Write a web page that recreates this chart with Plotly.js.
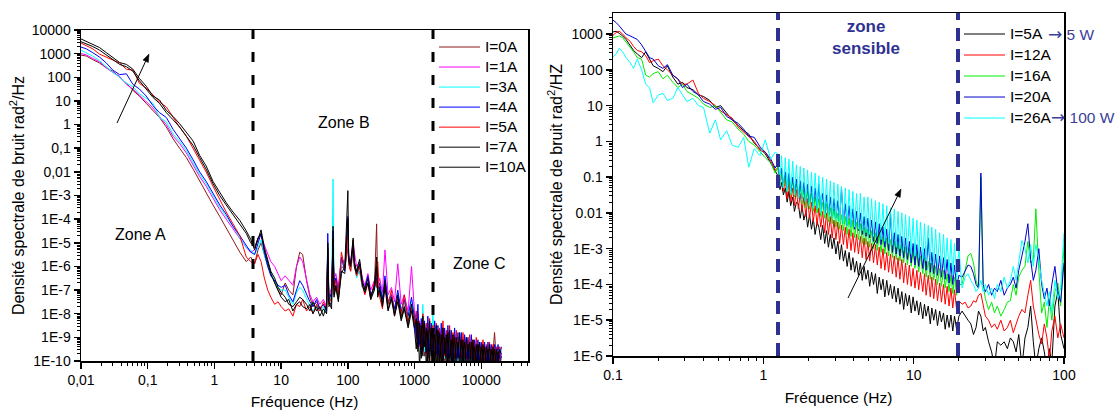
<!DOCTYPE html>
<html><head><meta charset="utf-8">
<script src="https://cdn.plot.ly/plotly-3.0.1.min.js"></script>
<style>html,body{margin:0;padding:0;background:#fff;}#chart{width:1118px;height:410px;}</style>
</head><body><div id="chart"></div>
<script>
// ---------- Left panel : frequency grid (Hz) ----------
const freqLeft = [
 0.01,0.012,0.015,0.019,0.024,0.03,0.038,0.048,0.06,0.075,0.095,0.12,0.15,0.19,0.24,0.3,0.38,0.48,0.6,0.75,0.95,1.2,1.5,1.9,2.4,3.0,3.5,4.0,4.5,5.0,5.6,6.3,7,8,9,10,
 11.5,13,15,17,19,21,24,27,30,34,38,43,48,50,52,57,60,62,66,72,80,90,100,103,110,120,125,135,150,165,180,200,220,250,270,280,300,330,360,400,450,500,560,630,700,800,900,1000,
 1060,1120,1190,1260,1330,1410,1500,1580,1680,1780,1880,2000,2110,2240,2370,2510,2660,2820,2990,3160,3350,3550,3760,3980,4220,4470,4730,5010,5310,5620,5960,6310,6680,7080,7500,7940,8410,8910,9440,10000,10600,11200,11900,12600,13300,14100,15000,15800,16800,17800,18800,20000];
const labelsLeft = ['I=0A','I=1A','I=3A','I=4A','I=5A','I=7A','I=10A'];
const psd_I0A = [
 870,790,560,400,250,180,100,56,28,16,7.9,4,2,.79,.25,.1,.04,.013,4e-3,1.3e-3,4e-4,1.3e-4,4e-5,1.3e-5,4e-6,1.6e-6,2.5e-6,1.3e-6,5e-6,1e-5,3.2e-6,1e-6,5e-7,2e-7,1e-7,6.3e-8,
 2e-7,1e-7,6.3e-8,1e-6,4e-6,3.2e-6,2.5e-7,5e-8,2e-8,3.2e-8,1.6e-8,2.5e-8,1.3e-8,2.5e-6,3.2e-8,7.9e-8,6.3e-6,1.6e-7,3.2e-7,7.9e-8,1e-6,7.9e-7,6.3e-6,1.3e-6,6.3e-7,5e-6,1.6e-6,4e-7,6.3e-7,1.3e-7,1e-7,2.5e-7,5e-8,1.3e-7,6.3e-5,1e-7,1.6e-7,3.2e-8,2e-7,2.5e-8,5e-8,1.3e-8,5e-8,7.9e-9,3.2e-8,5e-9,2.5e-8,4e-9,
 7.9e-9,4e-10,2.5e-9,2e-10,3.2e-9,1.6e-10,1.6e-9,1.3e-10,2e-9,1e-10,1.3e-9,1e-10,1.3e-9,1e-10,1e-9,1e-10,1e-9,1e-10,7.9e-10,1e-10,7.9e-10,1e-10,6.3e-10,1e-10,6.3e-10,1e-10,5e-10,1e-10,5e-10,1e-10,5e-10,1e-10,4e-10,1e-10,4e-10,1e-10,4e-10,1e-10,3.2e-10,1e-10,3.2e-10,1e-10,3.2e-10,1e-10,3.2e-10,1e-10,2.5e-10,1.6e-9,1e-10,2.5e-10,1e-10,2e-10];
const psd_I1A = [
 1000,890,630,450,250,160,110,50,32,18,10,5,2.2,1,.32,.16,.063,.018,6.3e-3,2.5e-3,7.9e-4,2.5e-4,1e-4,4e-5,1.6e-5,6.3e-6,4e-6,5e-6,1.6e-5,2e-5,7.9e-6,3.2e-6,1.6e-6,1e-6,5e-7,2.5e-7,
 4e-7,2.5e-7,1.6e-7,1e-6,2.5e-6,1.6e-6,3.2e-7,6.3e-8,3.2e-8,5e-8,2.5e-8,4e-8,2e-8,5e-6,5e-8,1.3e-7,1e-5,2.5e-7,5e-7,1.3e-7,2e-6,1.6e-6,1e-5,3.2e-6,1.6e-6,1.3e-5,4e-6,1e-6,1.6e-6,3.2e-7,1.6e-7,5e-7,1e-7,2.5e-7,6.3e-7,1.6e-7,3.2e-7,7.9e-8,5e-6,6.3e-8,1.3e-7,3.2e-8,1.3e-6,2.5e-8,6.3e-8,1.3e-8,1e-6,1e-8,
 7.9e-10,1e-8,4e-10,4e-9,2.5e-10,3.2e-9,2e-10,4e-9,2e-10,2.5e-9,1.6e-10,2.5e-9,1.6e-10,2e-9,1.3e-10,2e-9,1.3e-10,1.6e-9,1.3e-10,1.6e-9,1.3e-10,1.3e-9,1e-10,1.3e-9,1e-10,1e-9,1e-10,1e-9,1e-10,7.9e-10,1e-10,7.9e-10,1e-10,6.3e-10,1e-10,6.3e-10,1e-10,5e-10,1e-10,5e-10,1e-10,4e-10,1e-10,4e-10,1e-10,3.2e-10,1e-10,3.2e-10,1e-10,3.2e-10,1e-10,2e-10];
const psd_I3A = [
 1400,1100,790,500,280,160,100,56,40,20,13,7.9,2,1.3,.4,.2,.079,.025,7.9e-3,3.2e-3,1e-3,3.2e-4,1.3e-4,5e-5,1.6e-5,6.3e-6,5e-6,3.2e-6,6.3e-6,1.3e-5,3.2e-6,1e-6,5e-7,2.5e-7,1.3e-7,1e-7,
 1e-7,5e-8,2.5e-8,7.9e-8,1.3e-7,1e-7,4e-8,2e-8,1.3e-8,2.5e-8,1.3e-8,2e-8,1e-8,1e-5,2.5e-8,6.3e-8,5e-3,1.6e-7,2.5e-7,6.3e-8,1.6e-6,7.9e-7,3.2e-5,1.6e-6,7.9e-7,6.3e-6,1.3e-6,3.2e-7,7.9e-7,1.3e-7,7.9e-8,2.5e-7,4e-8,1e-7,2.5e-7,7.9e-8,1.6e-7,3.2e-8,3.2e-7,2.5e-8,5e-8,1.3e-8,7.9e-8,1e-8,3.2e-8,6.3e-9,4e-8,5e-9,
 1e-8,5e-10,3.2e-9,2.5e-10,2.5e-8,2.5e-10,3.2e-9,2e-10,2.5e-9,1.6e-10,1.6e-8,1.6e-10,2.5e-9,1.6e-10,2e-9,1.3e-10,2.5e-9,1.3e-10,1.6e-9,1.3e-10,2e-9,1.3e-10,1.3e-9,1e-10,1.3e-9,1e-10,1e-9,1e-10,1e-9,1e-10,7.9e-10,1e-10,7.9e-10,1e-10,6.3e-10,1e-10,6.3e-10,1e-10,5e-10,1e-10,5e-10,1e-10,4e-10,1e-10,4e-10,1e-10,3.2e-10,1e-10,3.2e-10,1e-10,3.2e-10,2.5e-10];
const psd_I4A = [
 1900,1600,1100,710,400,200,130,140,50,32,16,6.3,3.2,2,.63,.25,.1,.032,.01,4e-3,1.3e-3,4e-4,1.6e-4,5e-5,2e-5,7.9e-6,4e-6,3.2e-6,1e-5,2.5e-5,4e-6,1e-6,4e-7,2.5e-7,1.6e-7,1.3e-7,
 1.6e-7,6.3e-8,3.2e-8,1e-7,2.5e-7,1.6e-7,6.3e-8,3.2e-8,2e-8,4e-8,1.6e-8,2.5e-8,1.3e-8,2.5e-5,4e-8,7.9e-8,3.2e-5,1.3e-7,3.2e-7,7.9e-8,2.5e-6,6.3e-7,1.3e-4,2e-6,1e-6,1e-5,1.3e-6,5e-7,1.3e-6,2e-7,1.3e-7,4e-7,6.3e-8,1.3e-7,3.2e-7,1e-7,2e-7,4e-8,4e-7,3.2e-8,6.3e-8,1.6e-8,1e-7,1.3e-8,4e-8,7.9e-9,5e-8,6.3e-9,
 1e-9,2.5e-8,5e-10,6.3e-9,3.2e-10,5e-9,2.5e-10,7.9e-9,2.5e-10,4e-9,2e-10,5e-9,2e-10,3.2e-9,1.6e-10,4e-9,1.6e-10,2.5e-9,1.6e-10,3.2e-9,1.3e-10,2e-9,1.3e-10,2.5e-9,1.3e-10,1.6e-9,1.3e-10,1.6e-9,1.3e-10,1.3e-9,1.3e-10,1e-9,1.3e-10,1.3e-9,1e-10,7.9e-10,1e-10,7.9e-10,1e-10,6.3e-10,1e-10,6.3e-10,1e-10,6.3e-10,1e-10,5e-10,1e-10,5e-10,1e-10,5e-10,1.3e-10,4e-10];
const psd_I5A = [
 2800,2200,1600,950,710,500,400,220,200,56,35,18,8.9,5.6,2,.79,.32,.1,.032,.01,2.5e-3,6.3e-4,2e-4,6.3e-5,2e-5,2.5e-6,1.6e-6,1.3e-6,3.2e-6,1.6e-6,3.2e-7,1e-7,5e-8,2.5e-8,3.2e-8,2e-8,
 1.3e-8,1.6e-8,7.9e-9,2.5e-8,2e-8,4e-8,1.3e-8,2e-8,1e-8,2.5e-8,1.3e-8,3.2e-8,1.6e-8,3.2e-6,2.5e-8,5e-8,1.3e-5,1e-7,2.5e-7,6.3e-8,4e-6,7.9e-7,2e-5,1.3e-6,6.3e-7,1.3e-5,1e-6,4e-7,1e-6,1.6e-7,6.3e-8,2e-7,4e-8,2.5e-7,1.3e-7,1.6e-6,5e-8,1.6e-8,1.6e-7,2.5e-8,1e-7,7.9e-9,4e-8,1e-8,6.3e-8,5e-9,1.6e-8,4e-9,
 1.3e-8,6.3e-10,5e-9,3.2e-10,1e-8,4e-10,4e-9,2e-10,6.3e-9,2.5e-10,3.2e-9,1.6e-10,4e-9,2e-10,2.5e-9,1.3e-10,5e-9,1.6e-10,2e-9,1.3e-10,3.2e-9,1.6e-10,1.6e-9,1.3e-10,2e-9,1.6e-10,1.3e-9,1.3e-10,1.6e-9,1.3e-10,1e-9,1.3e-10,1.3e-9,1.3e-10,7.9e-10,1e-10,1e-9,1e-10,6.3e-10,1e-10,7.9e-10,1e-10,5e-10,1e-10,6.3e-10,1e-10,5e-10,1e-10,4e-10,1e-10,4e-10,3.2e-10];
const psd_I7A = [
 3200,2600,2000,1400,890,600,350,280,180,71,32,14,7.9,3.2,1.6,.79,.32,.13,.04,.013,3.2e-3,1e-3,4e-4,1.6e-4,6.3e-5,2.5e-5,1e-5,6.3e-6,1.6e-5,2.5e-5,5e-6,1.3e-6,5e-7,2e-7,1e-7,5e-8,
 3.2e-8,4e-8,1.3e-8,2.5e-8,3.2e-8,2e-8,1.6e-8,2.5e-8,1e-8,2e-8,7.9e-9,1.6e-8,1e-8,1e-5,2e-8,3.2e-8,1.6e-5,5e-8,1.3e-7,3.2e-8,6.3e-7,5e-7,1e-4,1.6e-6,1e-6,7.9e-6,1e-6,5e-7,1.3e-6,1.6e-7,7.9e-8,2e-7,4e-8,1e-7,1e-6,5e-8,1e-7,2e-8,1.3e-7,1.3e-8,4e-8,7.9e-9,3.2e-8,5e-9,1.6e-8,2.5e-9,1.3e-8,2e-9,
 3.2e-10,5e-9,5e-11,3.2e-9,1.6e-10,4e-9,5e-11,2e-9,1e-10,2.5e-9,5e-11,1.3e-9,5e-11,2e-9,7.9e-11,1.3e-9,5e-11,1e-9,5e-11,1.6e-9,6.3e-11,7.9e-10,5e-11,1e-9,5e-11,6.3e-10,5e-11,7.9e-10,5e-11,6.3e-10,5e-11,5e-10,5e-11,6.3e-10,5e-11,4e-10,5e-11,5e-10,5e-11,4e-10,5e-11,4e-10,5e-11,3.2e-10,5e-11,3.2e-10,5e-11,3.2e-10,5e-11,2.5e-10,5e-11,1.6e-10];
const psd_I10A = [
 4200,3300,2600,1800,1100,710,420,350,220,89,42,16,11,4,2.2,1.1,.45,.2,.05,.018,4e-3,1.3e-3,5e-4,2e-4,8.9e-5,3.2e-5,1.4e-5,5e-6,1.3e-5,3.5e-5,6.3e-6,1.6e-6,6.3e-7,3.2e-7,1.3e-7,7.9e-8,
 5e-8,2.5e-8,2e-8,3.2e-8,5e-8,4e-8,2.5e-8,1.3e-8,3.2e-8,1.3e-8,2e-8,7.9e-9,2.5e-8,6.3e-6,3.2e-8,1.6e-8,5e-5,6.3e-8,1.6e-7,4e-8,5e-7,1e-6,1.6e-3,2.5e-6,1.3e-6,1.6e-5,1.6e-6,6.3e-7,2e-6,2.5e-7,1e-7,3.2e-7,5e-8,1.6e-7,2.5e-6,6.3e-8,1.3e-7,2.5e-8,2.5e-7,1.6e-8,5e-8,1e-8,6.3e-8,6.3e-9,2e-8,3.2e-9,2.5e-8,2.5e-9,
 6.3e-9,2.5e-10,4e-9,1.3e-10,7.9e-9,4e-10,2.5e-9,5e-11,5e-9,1.6e-10,2e-9,5e-11,3.2e-9,1e-10,1.6e-9,5e-11,2.5e-9,2e-10,1.3e-9,5e-11,2e-9,7.9e-11,1.3e-9,5e-11,1e-9,1.3e-10,1.6e-9,5e-11,7.9e-10,5e-11,1e-9,1e-10,6.3e-10,5e-11,7.9e-10,5e-11,5e-10,7.9e-11,6.3e-10,5e-11,5e-10,5e-11,4e-10,6.3e-11,5e-10,5e-11,4e-10,5e-11,3.2e-10,5e-11,3.2e-10,2e-10];
const colorsLeft = ['#8b1a1a','#ff00ff','#00ffff','#0000ff','#ff0000','#000000','#000000'];

// ---------- Right panel : frequency grid (Hz) ----------
const freqRight = [
 0.1,0.105,0.11,0.116,0.122,0.13,0.137,0.145,0.155,0.165,0.175,0.185,0.2,0.215,0.23,0.25,0.27,0.29,0.31,0.34,0.37,0.4,0.44,0.48,0.52,0.57,0.62,0.68,0.74,0.8,0.87,0.95,1.03,1.12,1.2,
 1.25,1.29,1.32,1.36,1.4,1.44,1.48,1.52,1.57,1.61,1.66,1.71,1.76,1.81,1.86,1.92,1.97,2.03,2.09,2.15,2.21,2.28,2.34,2.41,2.48,2.56,2.63,2.71,2.79,2.87,
 2.95,3.04,3.13,3.22,3.31,3.41,3.51,3.61,3.72,3.83,3.94,4.05,4.17,4.29,4.42,4.55,4.68,4.82,4.96,5.1,5.25,5.41,5.57,5.73,5.9,6.07,6.25,6.43,6.62,6.81,
 7.01,7.22,7.43,7.65,7.87,8.1,8.34,8.58,8.83,9.09,9.36,9.63,9.91,10.2,10.5,10.8,11.1,11.5,11.8,12.1,12.5,12.9,13.2,13.6,14.0,14.4,14.9,15.3,15.8,16.2,16.7,17.2,17.7,18.2,18.7,19.3,20,
 21,22,23,24,25,26,27,28,29,30,31.5,33,34.5,36,38,40,42,44,46,48,50,52.5,55,57.5,60,62.5,65,68,71,74,77,80,83,87,91,95,100];
const labelsRight = ['I=5A','I=12A','I=16A','I=20A','I=26A'];
const psd_I5A_r = [
 1150,1200,1050,890,710,500,350,280,220,320,200,130,110,89,130,63,40,45,32,28,20,18,14,8.9,10,6.3,4,2.8,2,1.6,.89,.63,.45,.25,.14,
 .11,.045,.071,.032,.05,.02,.04,.016,.028,.011,.02,.018,7.1e-3,.016,6.3e-3,.011,4e-3,8.9e-3,3.5e-3,7.1e-3,2.5e-3,5.6e-3,4e-3,1.8e-3,4.5e-3,1.4e-3,3.2e-3,1.1e-3,2.5e-3,1e-3,
 2e-3,7.1e-4,1.6e-3,5e-4,1.3e-3,4.5e-4,8.9e-4,3.2e-4,7.9e-4,2.5e-4,5.6e-4,2.2e-4,4.5e-4,1.8e-4,4e-4,1.3e-4,3.2e-4,1.4e-4,2.5e-4,8.9e-5,2.2e-4,1e-4,2e-4,5.6e-5,1.6e-4,7.1e-5,1.4e-4,4.5e-5,1.3e-4,5e-5,
 1e-4,4e-5,8.9e-5,3.2e-5,7.9e-5,2.8e-5,6.3e-5,2e-5,5.6e-5,2.5e-5,5e-5,1.6e-5,4.5e-5,1.8e-5,3.5e-5,1.4e-5,3.2e-5,1.1e-5,2.8e-5,1.3e-5,2.5e-5,7.9e-6,2.2e-5,1e-5,2e-5,7.1e-6,1.8e-5,8.9e-6,1.6e-5,5.6e-6,1.4e-5,6.3e-6,1.4e-5,5e-6,1.3e-5,5.6e-6,1.3e-5,
 1.8e-5,1.3e-5,1e-5,7.9e-6,4e-6,6.3e-6,1.8e-5,1.3e-5,5e-6,6.3e-6,2.5e-6,1.3e-6,5e-7,2.5e-6,2e-6,2.5e-6,1.6e-6,3.2e-6,2.5e-6,1.3e-6,4e-6,5e-7,3.2e-6,6.3e-6,2.5e-5,2.5e-6,5e-7,1.6e-6,3.2e-6,1.3e-6,4e-7,1.6e-6,6.3e-7,2.5e-5,6.3e-5,4e-6,1.6e-6];
const psd_I12A_r = [
 930,1100,1200,1000,790,630,450,350,320,250,160,180,200,130,100,71,56,40,40,52,22,16,13,10,7.1,5.6,4.5,2.5,1.8,1.3,1,.56,.5,.28,.16,
 .18,.056,.13,.04,.089,.025,.071,.02,.05,.016,.045,.013,.035,.011,.028,7.9e-3,.025,7.1e-3,.02,5.6e-3,.016,4.5e-3,.014,4e-3,.011,2.8e-3,.01,2.5e-3,7.9e-3,2e-3,
 6.3e-3,1.8e-3,5.6e-3,1.4e-3,4.5e-3,1.3e-3,4e-3,1e-3,3.5e-3,8.9e-4,2.8e-3,7.9e-4,2.5e-3,7.1e-4,2.2e-3,5.6e-4,2e-3,5e-4,1.6e-3,4.5e-4,1.4e-3,4e-4,1.3e-3,3.5e-4,1.1e-3,2.8e-4,1e-3,2.5e-4,7.9e-4,2.2e-4,
 7.1e-4,2e-4,6.3e-4,1.6e-4,5.6e-4,1.4e-4,5e-4,1.1e-4,4e-4,1e-4,3.5e-4,8.9e-5,2.8e-4,7.9e-5,2.5e-4,7.1e-5,2.2e-4,6.3e-5,2e-4,5e-5,1.8e-4,4.5e-5,1.6e-4,4e-5,1.4e-4,3.5e-5,1.1e-4,3.2e-5,1e-4,2.8e-5,8.9e-5,2.5e-5,7.9e-5,2.2e-5,7.1e-5,2e-5,3.5e-5,
 2.8e-5,3.2e-5,2.2e-5,2.5e-5,3.5e-5,3.2e-5,5e-5,5.6e-5,2.5e-5,1.3e-5,1e-5,6.3e-6,7.9e-6,5.6e-6,1e-5,5e-6,6.3e-6,1e-5,4.5e-6,7.9e-6,1.3e-5,2e-5,1.6e-5,5e-5,1.3e-4,2.5e-5,1e-5,4e-6,2.2e-6,7.9e-6,3.2e-6,7.9e-7,5e-6,1.3e-5,3.2e-6,7.9e-6,3.2e-6];
const psd_I16A_r = [
 780,830,890,790,600,450,320,220,200,71,63,79,89,56,71,45,32,40,25,20,16,11,8.9,10,6.3,4,3.5,2.2,1.6,1,.79,.5,.35,.25,.13,
 .2,.063,.14,.05,.11,.04,.089,.032,.079,.028,.063,.025,.056,.018,.045,.014,.04,.013,.035,.011,.028,.01,.025,7.9e-3,.02,7.1e-3,.018,5.6e-3,.014,5e-3,
 .013,4e-3,.01,3.5e-3,8.9e-3,3.2e-3,7.9e-3,2.5e-3,7.1e-3,2.2e-3,6.3e-3,2e-3,5.6e-3,1.8e-3,5e-3,1.4e-3,4e-3,1.3e-3,3.5e-3,1.1e-3,3.2e-3,1e-3,2.8e-3,8.9e-4,2.5e-3,7.9e-4,2.2e-3,7.1e-4,2e-3,6.3e-4,
 1.8e-3,5.6e-4,1.6e-3,5e-4,1.4e-3,4.5e-4,1.3e-3,4e-4,1.1e-3,3.5e-4,1e-3,3.2e-4,8.9e-4,2.8e-4,7.9e-4,2.2e-4,6.3e-4,2e-4,5.6e-4,1.6e-4,4.5e-4,1.4e-4,4e-4,1.3e-4,3.2e-4,1e-4,2.8e-4,8.9e-5,2.5e-4,7.9e-5,2e-4,6.3e-5,1.8e-4,5.6e-5,1.6e-4,5e-5,1e-4,
 1e-4,2.5e-4,6.3e-4,7.4e-4,4e-4,1.3e-4,7.9e-5,.1,1e-4,4e-5,2e-5,3.2e-5,1.6e-5,2.5e-5,1.3e-5,2e-5,3.2e-5,3.5e-5,1e-4,5e-5,1.6e-4,2.5e-4,3.2e-4,1.6e-3,4e-4,5e-4,.013,2.5e-4,1.6e-5,3.2e-5,6.3e-6,4e-5,1e-5,6.3e-5,1.1e-4,2.5e-5,1.3e-3];
const psd_I20A_r = [
 2450,2100,1700,1300,1000,890,790,710,500,320,220,200,130,110,140,71,56,32,40,25,20,13,11,7.9,8.9,5,4,3.2,2.2,1.4,1.3,.71,.5,.32,.18,
 .25,.079,.18,.063,.14,.05,.13,.04,.1,.035,.089,.028,.079,.025,.071,.02,.063,.018,.056,.016,.05,.014,.063,.013,.035,.01,.032,8.9e-3,.028,7.9e-3,
 .025,7.1e-3,.022,6.3e-3,.05,5.6e-3,.018,4.5e-3,.016,4e-3,.013,3.5e-3,.011,3.2e-3,.01,2.5e-3,7.9e-3,2.2e-3,7.1e-3,2e-3,6.3e-3,1.6e-3,5.6e-3,1.4e-3,5e-3,1.3e-3,4e-3,1.1e-3,3.5e-3,8.9e-4,
 .01,7.9e-4,2.8e-3,7.1e-4,2.5e-3,6.3e-4,2.2e-3,5.6e-4,2e-3,5e-4,1.6e-3,4e-4,1.4e-3,3.5e-4,1.3e-3,3.2e-4,1.1e-3,2.8e-4,1e-3,2.5e-4,2e-3,2.2e-4,7.9e-4,2e-4,7.1e-4,1.8e-4,6.3e-4,1.6e-4,5.6e-4,1.4e-4,5e-4,1.1e-4,4e-4,1e-4,3.5e-4,8.9e-5,1.8e-4,
 1.6e-4,2.5e-4,3.5e-4,3.2e-4,2e-4,1e-4,7.9e-5,.13,1e-4,6.3e-5,1e-4,5e-5,7.9e-5,6.3e-5,1.3e-4,5e-5,7.9e-5,1e-4,1.6e-4,7.9e-5,2.5e-4,6.3e-4,1.6e-3,5e-3,5e-4,1.3e-4,2.5e-4,1e-3,1e-4,4e-5,7.9e-5,2.5e-5,1e-4,3.2e-4,6.3e-5,3.2e-5,4e-4];
const psd_I26A_r = [
 230,280,400,320,220,160,110,200,100,40,32,12,20,22,14,16,32,20,13,16,10,8.9,1.7,4,1.1,2,.79,.68,1.3,.19,.63,.4,1.1,.32,.5,
 .45,.056,.4,.05,.35,.04,.32,.035,.28,.032,.22,.025,.2,.022,.18,.02,.16,.016,.14,.014,.13,.013,.11,.01,.1,8.9e-3,.089,7.9e-3,.079,7.1e-3,
 .071,6.3e-3,.063,5.6e-3,.056,5e-3,.05,4.5e-3,.045,4e-3,.04,4e-3,.035,3.5e-3,.035,3.2e-3,.028,2.8e-3,.028,2.5e-3,.025,2.2e-3,.022,2e-3,.02,1.8e-3,.018,1.6e-3,.016,1.4e-3,
 .014,1.3e-3,.013,1.1e-3,.011,1e-3,.01,8.9e-4,8.9e-3,7.9e-4,7.9e-3,7.1e-4,7.1e-3,6.3e-4,6.3e-3,5.6e-4,5.6e-3,5e-4,5e-3,4.5e-4,4.5e-3,4e-4,4e-3,3.5e-4,3.5e-3,3.2e-4,2.8e-3,2.8e-4,2.5e-3,2.5e-4,2e-3,2e-4,1.8e-3,1.8e-4,1.4e-3,1.4e-4,1e-3,
 7.9e-5,1.6e-4,2e-4,1.3e-4,1e-4,6.3e-5,7.9e-5,1.3e-4,6.3e-5,1e-4,5e-5,7.9e-5,4e-5,1e-4,6.3e-5,1.6e-4,7.9e-5,1.3e-4,3.2e-4,1.3e-4,5e-4,1.7e-3,1e-3,4e-4,1.3e-3,3.2e-4,1.3e-3,5e-4,1.3e-4,5e-5,2.5e-5,6.3e-5,1.6e-5,1.3e-4,4e-5,7.9e-5,2.7e-3];
const colorsRight = ['#000000','#ff0000','#00ee00','#0000cc','#00ffff'];

// ---------- tick labels ----------
const xTickValsLeft = [0.01,0.1,1,10,100,1000,10000];
const xTickTextLeft = ['0,01','0,1','1','10','100','1000','10000'];
const yTickValsLeft = [1e4,1e3,100,10,1,0.1,0.01,1e-3,1e-4,1e-5,1e-6,1e-7,1e-8,1e-9,1e-10];
const yTickTextLeft = ['10000','1000','100','10','1','0,1','0,01','1E-3','1E-4','1E-5','1E-6','1E-7','1E-8','1E-9','1E-10'];
const xTickValsRight = [0.1,1,10,100];
const xTickTextRight = ['0.1','1','10','100'];
const yTickValsRight = [1000,100,10,1,0.1,0.01,1e-3,1e-4,1e-5,1e-6];
const yTickTextRight = ['1000','100','10','1','0.1','0.01','1E-3','1E-4','1E-5','1E-6'];

// ---------- build ----------
const W = 1118, H = 410;
const px = v => v / W, py = v => 1 - v / H;
const FONT = 'Liberation Sans, Arial, sans-serif';
const big = t => '<span style="font-size:15.5px">' + t + '</span>';

function minorVals(e0, e1, maxV) {
  const out = [];
  for (let e = e0; e <= e1; e++) for (let m = 2; m <= 9; m++) { const v = m * Math.pow(10, e); if (v <= maxV) out.push(v); }
  return out;
}

const leftSeries = [psd_I0A, psd_I1A, psd_I3A, psd_I4A, psd_I5A, psd_I7A, psd_I10A];
const rightSeries = [psd_I5A_r, psd_I12A_r, psd_I16A_r, psd_I20A_r, psd_I26A_r];

const traces = [];
leftSeries.forEach((ys, i) => traces.push({
  x: freqLeft, y: ys, type: 'scatter', mode: 'lines', name: big(labelsLeft[i]),
  line: {color: colorsLeft[i], width: 1}, xaxis: 'x', yaxis: 'y', legend: 'legend'
}));
rightSeries.forEach((ys, i) => traces.push({
  x: freqRight, y: ys, type: 'scatter', mode: 'lines', name: big(labelsRight[i]),
  line: {color: colorsRight[i], width: 1}, xaxis: 'x2', yaxis: 'y2', legend: 'legend2'
}));

function axis(extra) {
  return Object.assign({
    type: 'log', showline: true, linecolor: '#000', linewidth: 1.5, mirror: true,
    ticks: 'outside', ticklen: 6, tickwidth: 1.5, tickcolor: '#000',
    showgrid: false, zeroline: false, automargin: false, tickmode: 'array',
    tickfont: {family: FONT, size: 14, color: '#000'}
  }, extra);
}

const NAVY = '#2e3192';
const txt = (x, y, text, size, color, extra) => Object.assign({xref: 'paper', yref: 'paper', x: px(x), y: py(y), text: text,
  showarrow: false, xanchor: 'center', yanchor: 'middle', font: {family: FONT, size: size, color: color}}, extra || {});

// thin arrow drawn as a line shape + filled head (pixel positions of tail and head)
function arrowShapes(tx, ty, hx, hy) {
  const dx = hx - tx, dy = hy - ty, L = Math.hypot(dx, dy), ux = dx / L, uy = dy / L;
  const bx = hx - 8 * ux, by = hy - 8 * uy, nx = -uy, ny = ux;
  const P = (x, y) => px(x) + ',' + py(y);
  return [
    {type: 'line', xref: 'paper', yref: 'paper', x0: px(tx), y0: py(ty), x1: px(bx), y1: py(by), line: {color: '#000', width: 1}},
    {type: 'path', xref: 'paper', yref: 'paper', path: 'M' + P(hx, hy) + ' L' + P(bx + 3 * nx, by + 3 * ny) + ' L' + P(bx - 3 * nx, by - 3 * ny) + ' Z',
     fillcolor: '#000', line: {color: '#000', width: 0.5}}
  ];
}

const ARROW = '<span style="font-family:DejaVu Sans;font-size:17px">→</span>';

const layout = {
  width: W, height: H, margin: {l: 0, r: 0, t: 0, b: 0},
  paper_bgcolor: '#fff', plot_bgcolor: 'rgba(0,0,0,0)', showlegend: true,
  font: {family: FONT, color: '#000'},
  xaxis: axis({domain: [px(81), px(528)], range: [-2, 4.7], anchor: 'y',
    tickvals: xTickValsLeft, ticktext: xTickTextLeft,
    minor: {tickmode: 'array', tickvals: minorVals(-2, 4, 50000), ticks: 'outside', ticklen: 3, tickwidth: 1, tickcolor: '#000'},
    title: {text: 'Fréquence (Hz)', font: {family: FONT, size: 15.5}, standoff: 10}}),
  yaxis: axis({domain: [py(361), py(30)], range: [-10, 4], anchor: 'x',
    tickvals: yTickValsLeft, ticktext: yTickTextLeft,
    minor: {tickmode: 'array', tickvals: minorVals(-10, 3, 1e4), ticks: 'outside', ticklen: 3, tickwidth: 1, tickcolor: '#000'},
    title: {text: 'Densité spectrale de bruit rad<sup>2</sup>/Hz', font: {family: FONT, size: 16}, standoff: 3}}),
  xaxis2: axis({domain: [px(613), px(1064)], range: [-1, 2], anchor: 'y2',
    tickvals: xTickValsRight, ticktext: xTickTextRight,
    minor: {tickmode: 'array', tickvals: minorVals(-1, 1, 100), ticks: 'outside', ticklen: 3, tickwidth: 1, tickcolor: '#000'},
    title: {text: 'Fréquence (Hz)', font: {family: FONT, size: 15.5}, standoff: 10}}),
  yaxis2: axis({domain: [py(356), py(13)], range: [-6, 3.59], anchor: 'x2',
    tickvals: yTickValsRight, ticktext: yTickTextRight,
    minor: {tickmode: 'array', tickvals: minorVals(-6, 3, 3900), ticks: 'outside', ticklen: 3, tickwidth: 1, tickcolor: '#000'},
    title: {text: 'Densité spectrale de bruit rad<sup>2</sup>/HZ', font: {family: FONT, size: 16}, standoff: 5}}),
  legend: {x: px(434), y: py(32), xanchor: 'left', yanchor: 'top', bgcolor: 'rgba(0,0,0,0)', itemwidth: 41,
    font: {family: FONT, size: 13.1, color: '#000'}, tracegroupgap: 0},
  legend2: {x: px(959), y: py(18.5), xanchor: 'left', yanchor: 'top', bgcolor: 'rgba(0,0,0,0)', itemwidth: 41,
    font: {family: FONT, size: 13.85, color: '#000'}, tracegroupgap: 0},
  shapes: [
    {type: 'line', xref: 'paper', yref: 'paper', x0: px(253), x1: px(253), y0: py(361), y1: py(30), line: {color: '#000', width: 3, dash: '10px,13px'}},
    {type: 'line', xref: 'paper', yref: 'paper', x0: px(433), x1: px(433), y0: py(361), y1: py(30), line: {color: '#000', width: 3, dash: '10px,13px'}},
    {type: 'line', xref: 'paper', yref: 'paper', x0: px(778), x1: px(778), y0: py(356), y1: py(13), line: {color: NAVY, width: 4, dash: '13px,8px'}},
    {type: 'line', xref: 'paper', yref: 'paper', x0: px(958), x1: px(958), y0: py(356), y1: py(13), line: {color: NAVY, width: 4, dash: '13px,8px'}}
  ].concat(arrowShapes(117, 123, 149, 54), arrowShapes(848, 298, 901, 189)),
  annotations: [
    txt(140, 235, 'Zone A', 16, '#000'),
    txt(344, 122, 'Zone B', 16, '#000'),
    txt(479, 263, 'Zone C', 16, '#000'),
    txt(866, 38, '<b>zone<br>sensible</b>', 17, NAVY),
    txt(1046, 34, ARROW + '&nbsp;5 W', 15.5, '#3b3f9b', {xanchor: 'left'}),
    txt(1049, 117, ARROW + '&nbsp;100 W', 15.5, '#3b3f9b', {xanchor: 'left'})
  ]
};

Plotly.newPlot('chart', traces, layout, {staticPlot: true, displayModeBar: false});
</script>
</body></html>
